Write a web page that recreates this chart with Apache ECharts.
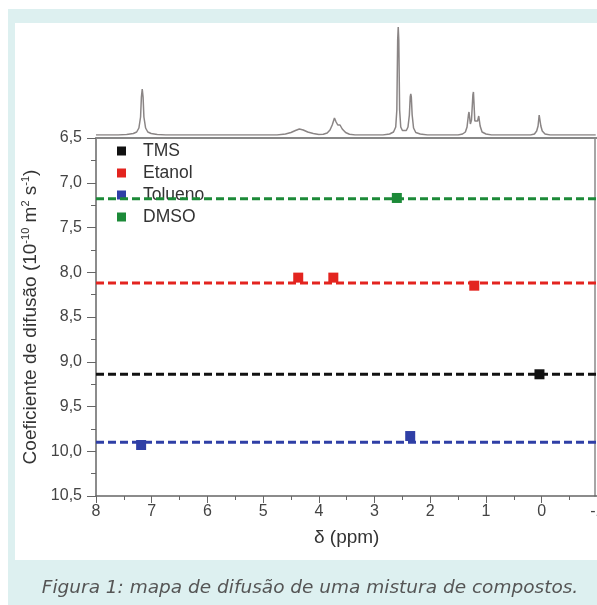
<!DOCTYPE html>
<html>
<head>
<meta charset="utf-8">
<script src="https://cdn.jsdelivr.net/npm/echarts@6/dist/echarts.min.js"></script>
<style>
  html, body { margin: 0; padding: 0; background: #fff; }
  #frame { position: absolute; left: 8px; top: 9px; width: 589px; height: 596px; background: #ddf0f0; }
  #panel { position: absolute; left: 15px; top: 23px; width: 582px; height: 537px; background: #fff; }
  #chart { position: absolute; left: 0; top: 0; width: 597px; height: 605px; }
</style>
</head>
<body>
<div id="frame"></div>
<div id="panel"></div>
<div id="chart"></div>
<script>
// compounds and their diffusion points [ppm, D (1e-10 m2/s)]
const compounds = ['TMS', 'Etanol', 'Tolueno', 'DMSO']
const tmsPoints = [[0.04, 9.14]]
const etanolPoints = [[4.37, 8.06], [3.74, 8.06], [1.21, 8.15]]
const toluenoPoints = [[7.19, 9.93], [2.36, 9.83]]
const dmsoPoints = [[2.6, 7.17]]
// mean diffusion value of each compound (dashed lines)
const meanValues = [9.14, 8.12, 9.90, 7.18]
// 1H spectrum on top, [ppm, intensity]
const spectrum = [
  [8.0, 0], [7.6, 0], [7.45, 0.5], [7.33, 1.5], [7.27, 3], [7.23, 7], [7.2, 18], [7.185, 38], [7.17, 46],
  [7.155, 38], [7.14, 18], [7.11, 7], [7.07, 3], [7.01, 1.5], [6.9, 0.5], [6.75, 0],
  [4.75, 0], [4.6, 1], [4.5, 2.5], [4.42, 4.5], [4.35, 6], [4.28, 5], [4.2, 3], [4.1, 1.5],
  [4.0, 0.6], [3.92, 0.8], [3.85, 2], [3.8, 5], [3.76, 10], [3.72, 17], [3.69, 13], [3.66, 10],
  [3.62, 10], [3.58, 6], [3.52, 2.5], [3.45, 0.8], [3.35, 0],
  [2.85, 0], [2.73, 1], [2.66, 3], [2.62, 8], [2.6, 25], [2.585, 95], [2.575, 108], [2.565, 95],
  [2.55, 25], [2.53, 8], [2.5, 4.5], [2.47, 3.5], [2.43, 4.5], [2.4, 8], [2.375, 20], [2.36, 38],
  [2.35, 41], [2.34, 38], [2.325, 20], [2.3, 7], [2.26, 2.5], [2.18, 1], [2.05, 0],
  [1.5, 0], [1.42, 1], [1.37, 3], [1.34, 8], [1.315, 20], [1.305, 23], [1.28, 11], [1.26, 15],
  [1.235, 40], [1.225, 43], [1.2, 14], [1.17, 12], [1.15, 14], [1.13, 19], [1.105, 9], [1.07, 3],
  [1.0, 1], [0.9, 0],
  [0.2, 0], [0.13, 1], [0.09, 4], [0.065, 9], [0.045, 20], [0.035, 21], [0.015, 9], [-0.01, 4],
  [-0.06, 1], [-0.15, 0], [-0.97, 0]
]

const colors = ['#111111', '#e3241f', '#2f3fa6', '#1c8a38']
const font = 'Liberation Sans, Arial, sans-serif'

const chart = echarts.init(document.getElementById('chart'))

const pointSets = [tmsPoints, etanolPoints, toluenoPoints, dmsoPoints]

const lineSeries = compounds.map((name, i) => ({
  name: name + ' média',
  type: 'line',
  xAxisIndex: 0,
  yAxisIndex: 0,
  data: [[8, meanValues[i]], [-1, meanValues[i]]],
  symbol: 'none',
  silent: true,
  z: 3,
  lineStyle: { color: colors[i], width: 3, type: [8, 4] }
}))

const scatterSeries = compounds.map((name, i) => ({
  name,
  type: 'scatter',
  xAxisIndex: 0,
  yAxisIndex: 0,
  data: pointSets[i],
  symbol: 'rect',
  symbolSize: 10,
  z: 4,
  itemStyle: { color: colors[i], opacity: 1 }
}))

chart.setOption({
  animation: false,
  backgroundColor: 'transparent',
  textStyle: { fontFamily: font },
  grid: [
    { left: 96, top: 138, width: 501.4, height: 358, outerBoundsMode: 'none', containLabel: false },
    { left: 96, top: 25, width: 501.4, height: 110, outerBoundsMode: 'none', containLabel: false }
  ],
  legend: {
    data: compounds.map(n => ({ name: n, icon: 'rect' })),
    orient: 'vertical',
    left: 112,
    top: 137,
    itemWidth: 9,
    itemHeight: 9,
    itemGap: 4,
    z: 1,
    textStyle: { fontFamily: font, fontSize: 17.5, color: '#333', padding: [0, 0, 0, 12] }
  },
  xAxis: [
    {
      type: 'value',
      gridIndex: 0,
      position: 'bottom',
      min: -1,
      max: 8,
      interval: 1,
      inverse: true,
      name: 'δ (ppm)',
      nameLocation: 'middle',
      nameGap: 32,
      nameTextStyle: { fontFamily: font, fontSize: 19, color: '#333' },
      axisLine: { onZero: false, lineStyle: { color: '#666', width: 1.5 } },
      axisTick: { length: 7, lineStyle: { color: '#666' } },
      minorTick: { show: true, splitNumber: 2, length: 4, lineStyle: { color: '#666' } },
      axisLabel: { fontFamily: font, fontSize: 16, color: '#444', margin: 8, alignMinLabel: 'center', alignMaxLabel: 'center' },
      splitLine: { show: false }
    },
    {
      type: 'value',
      gridIndex: 0,
      position: 'top',
      min: -1,
      max: 8,
      inverse: true,
      axisLine: { onZero: false, lineStyle: { color: '#888', width: 2 } },
      axisTick: { show: false },
      axisLabel: { show: false },
      splitLine: { show: false }
    },
    {
      type: 'value',
      gridIndex: 1,
      min: -1,
      max: 8,
      inverse: true,
      show: false
    }
  ],
  yAxis: [
    {
      type: 'value',
      gridIndex: 0,
      position: 'left',
      min: 6.5,
      max: 10.5,
      interval: 0.5,
      inverse: true,
      name: 'Coeficiente de difusão (10{sup|-10} m{sup|2} s{sup|-1})',
      nameLocation: 'middle',
      nameGap: 56,
      nameTextStyle: {
        fontFamily: font,
        fontSize: 19,
        color: '#333',
        rich: {
          sup: { fontFamily: font, fontSize: 11, verticalAlign: 'top', color: '#333' }
        }
      },
      axisLine: { show: true, onZero: false, lineStyle: { color: '#666', width: 1.5 } },
      axisTick: { length: 9, lineStyle: { color: '#666' } },
      minorTick: { show: true, splitNumber: 2, length: 5, lineStyle: { color: '#666' } },
      axisLabel: {
        fontFamily: font,
        fontSize: 16,
        color: '#444',
        margin: 14,
        formatter: v => v.toFixed(1).replace('.', ',')
      },
      splitLine: { show: false }
    },
    {
      type: 'value',
      gridIndex: 0,
      position: 'right',
      offset: -2.4,
      min: 6.5,
      max: 10.5,
      inverse: true,
      axisLine: { show: true, onZero: false, lineStyle: { color: '#888', width: 1.5 } },
      axisTick: { show: false },
      axisLabel: { show: false },
      splitLine: { show: false }
    },
    {
      type: 'value',
      gridIndex: 1,
      min: 0,
      max: 110,
      show: false
    }
  ],
  graphic: [
    {
      type: 'text',
      x: 310,
      y: 588,
      style: {
        text: 'Figura 1: mapa de difusão de uma mistura de compostos.',
        font: 'italic 18.5px "DejaVu Sans", sans-serif',
        fill: '#555',
        align: 'center',
        verticalAlign: 'middle'
      }
    }
  ],
  series: [
    {
      name: 'espectro',
      type: 'line',
      xAxisIndex: 2,
      yAxisIndex: 2,
      data: spectrum,
      showSymbol: false,
      silent: true,
      lineStyle: { color: '#8a8585', width: 1.5 }
    },
    ...lineSeries,
    ...scatterSeries
  ]
})

window.addEventListener('resize', () => chart.resize())
</script>
</body>
</html>
